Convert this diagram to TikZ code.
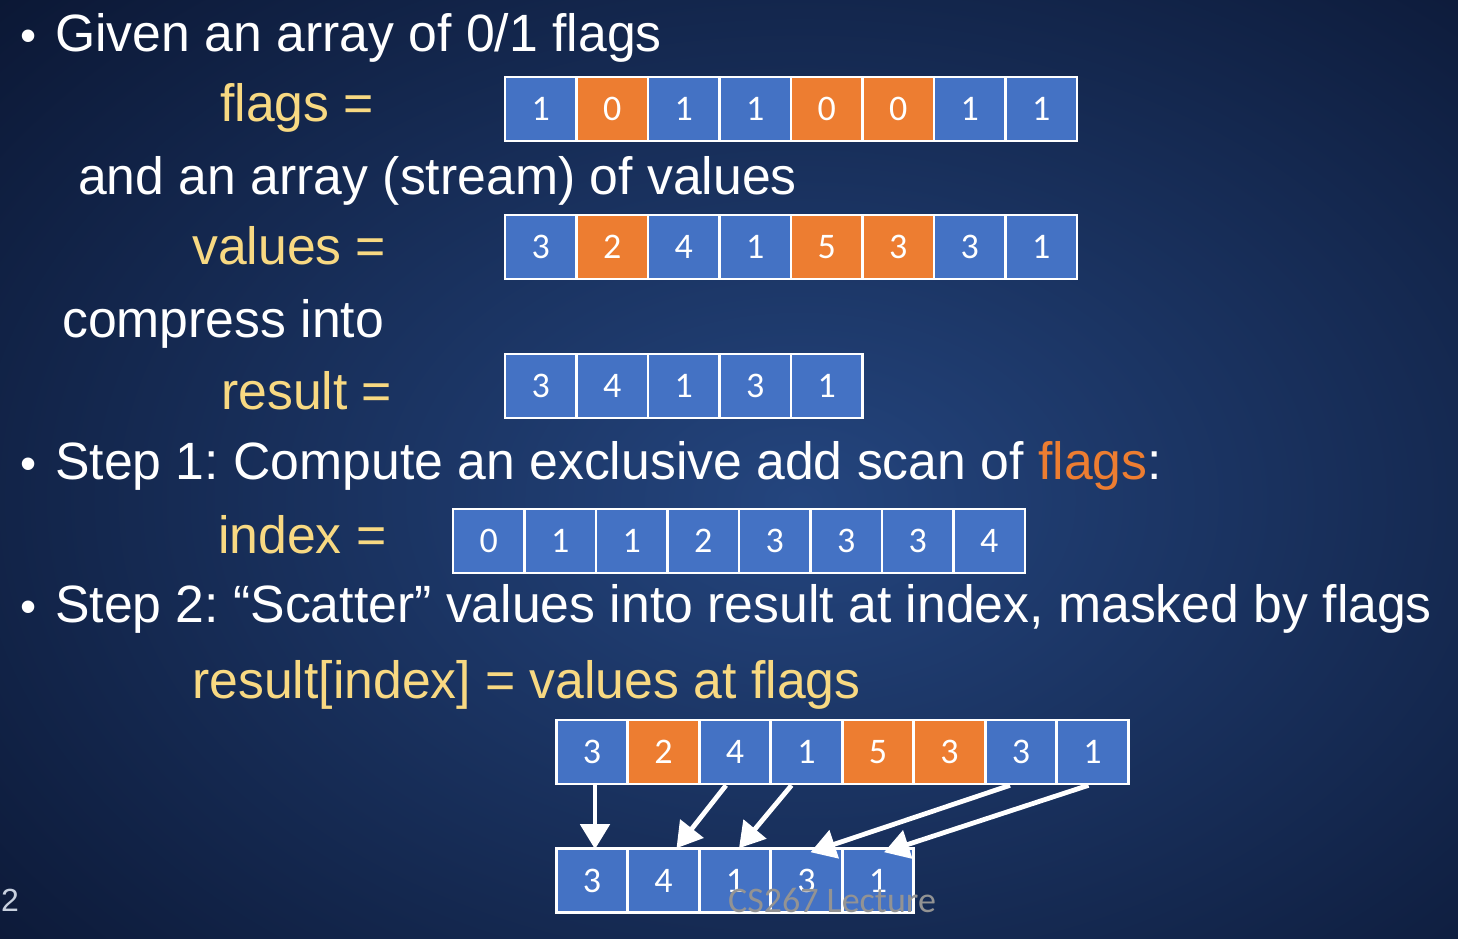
\documentclass[tikz,border=0pt]{standalone}
\usepackage{fontspec}
\setmainfont[FakeStretch=0.985]{Liberation Sans}
\newfontfamily\cellfont{Carlito}
\newfontfamily\plainsans{Liberation Sans}
\usetikzlibrary{arrows.meta}
\frenchspacing
\definecolor{bgin}{HTML}{24457E}
\definecolor{bgout}{HTML}{0B1734}
\definecolor{cellB}{HTML}{4472C4}
\definecolor{cellO}{HTML}{ED7D31}
\definecolor{gold}{HTML}{F8D982}
\definecolor{hot}{HTML}{ED7D31}
\tikzset{
  cell/.style={draw=white, line width=2.6pt, minimum width=71.5pt, minimum height=64pt,
    inner sep=0pt, text=white, font=\cellfont\fontsize{36}{36}\selectfont},
  txt/.style={anchor=base west, inner sep=0pt, text=white, font=\fontsize{52.5}{60}\selectfont},
  lbl/.style={txt, text=gold},
  bul/.style={anchor=base west, inner sep=0pt, text=white, font=\plainsans\fontsize{46}{50}\selectfont},
  scatterarrow/.style={draw=white, line width=4.8pt,
    -{Triangle[width=29pt,length=25pt]}},
}
\begin{document}
\begin{tikzpicture}[x=1pt,y=-1pt]
\useasboundingbox (0,0) rectangle (1458,938);
\shade[inner color=bgin, outer color=bgout] (-300,-250) rectangle (1900,1250);

% bullets
\node[bul] (b1) at (20,51) {\textbullet};
\node[bul] (b2) at (20,479) {\textbullet};
\node[bul] (b3) at (20,622) {\textbullet};

% text lines
\node[txt] (t1) at (55,51) {Given an array of 0/1 flags};
\node[lbl] (lf) at (220,121) {flags =};
\node[txt] (t2) at (78,194) {and an array (stream) of values};
\node[lbl] (lv) at (192,264) {values =};
\node[txt] (t3) at (62,337) {compress into};
\node[lbl] (lr) at (221,409) {result =};
\node[txt] (t4) at (55,479) {Step 1: Compute an exclusive add scan of \textcolor{hot}{flags}:};
\node[lbl] (li) at (218,553) {index =};
\node[txt] (t5) at (55,622) {Step 2: “Scatter” values into result at index, masked by flags};
\node[lbl] (lri) at (192,698) {result[index] = values at flags};

% arrays
\foreach \v/\c [count=\i from 0] in {1/B,0/O,1/B,1/B,0/O,0/O,1/B,1/B}
  \node[cell, fill=cell\c] (f\i) at (540.75+71.5*\i,109) {\v};
\foreach \v/\c [count=\i from 0] in {3/B,2/O,4/B,1/B,5/O,3/O,3/B,1/B}
  \node[cell, fill=cell\c] (v\i) at (540.75+71.5*\i,247) {\v};
\foreach \v [count=\i from 0] in {3,4,1,3,1}
  \node[cell, fill=cellB] (r\i) at (540.75+71.5*\i,386) {\v};
\foreach \v [count=\i from 0] in {0,1,1,2,3,3,3,4}
  \node[cell, fill=cellB] (x\i) at (488.75+71.5*\i,541) {\v};
\foreach \v/\c [count=\i from 0] in {3/B,2/O,4/B,1/B,5/O,3/O,3/B,1/B}
  \node[cell, fill=cell\c] (bv\i) at (592+71.5*\i,752) {\v};
\foreach \v [count=\i from 0] in {3,4,1,3,1}
  \node[cell, fill=cellB] (br\i) at (592+71.5*\i,880.5) {\v};

% scatter arrows
\draw[scatterarrow] ([xshift=3pt]bv0.south) -- ([xshift=3pt,yshift=-2pt]br0.north);
\draw[scatterarrow] ([xshift=-9pt]bv2.south) -- ([xshift=13pt,yshift=-1pt]br1.north);
\draw[scatterarrow] ([xshift=-15pt]bv3.south) -- ([xshift=4pt,yshift=-1pt]br2.north);
\draw[scatterarrow] ([xshift=-11pt]bv6.south) -- ([xshift=4pt,yshift=-5pt]br3.north);
\draw[scatterarrow] ([xshift=-4pt]bv7.south) -- ([xshift=6pt,yshift=-5pt]br4.north);

% footer
\node[inner sep=0pt, text=gray!85, font=\cellfont\fontsize{36}{36}\selectfont] (foot) at (832,900) {CS267 Lecture};
\node[anchor=west, inner sep=0pt, text=white!75!bgin, font=\plainsans\fontsize{32}{32}\selectfont] (pg) at (1,900) {2};
\end{tikzpicture}
\end{document}
